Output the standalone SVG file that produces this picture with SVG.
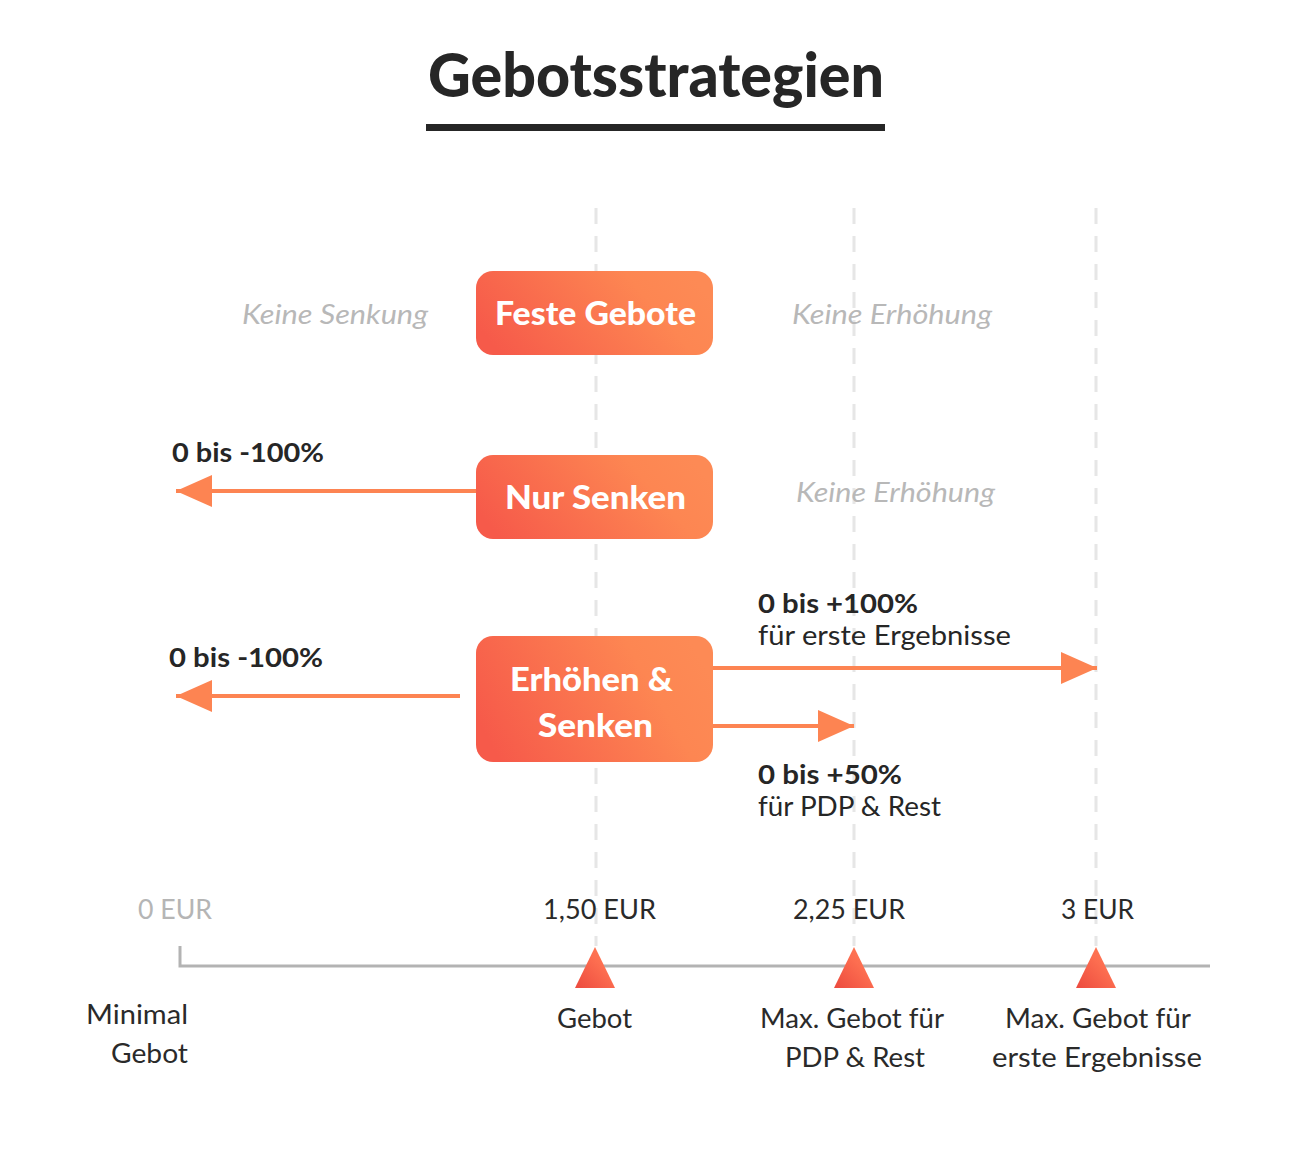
<svg xmlns="http://www.w3.org/2000/svg" width="1311" height="1154" viewBox="0 0 1311 1154">
<defs>
<linearGradient id="boxGrad" x1="0" y1="0.65" x2="1" y2="0.35">
<stop offset="0" stop-color="#f65a4a"/>
<stop offset="0.75" stop-color="#fd8652"/>
<stop offset="1" stop-color="#fd8a55"/>
</linearGradient>
<linearGradient id="triGrad" x1="0" y1="1" x2="1" y2="0">
<stop offset="0" stop-color="#ec4a3e"/>
<stop offset="0.6" stop-color="#fd6e50"/>
<stop offset="1" stop-color="#ff7e56"/>
</linearGradient>
<marker id="head" markerUnits="userSpaceOnUse" markerWidth="36" markerHeight="32" viewBox="0 0 36 32" refX="36" refY="16" orient="auto">
<path d="M0,0 L36,16 L0,32 z" fill="#fd8452"/>
</marker>
<style>
.guide{stroke:#e6e6e6;stroke-width:3;stroke-dasharray:16 12;fill:none}
.box{fill:url(#boxGrad)}
.boxtxt{font-family:Lato,"Noto Sans",sans-serif;font-weight:900;font-size:32px;fill:#ffffff;text-anchor:middle}
.arrow{stroke:#fd8452;stroke-width:4;fill:none;marker-end:url(#head)}
.hint{font-family:Lato,"Noto Sans",sans-serif;font-style:italic;font-size:27px;fill:#b8b8b8}
.pct{font-family:Lato,"Noto Sans",sans-serif;font-weight:700;font-size:26px;fill:#262626}
.sub{font-family:Lato,"Noto Sans",sans-serif;font-size:26px;fill:#262626}
.axis{stroke:#b3b3b3;stroke-width:3;fill:none}
.tick{font-family:Lato,"Noto Sans",sans-serif;font-size:26px;fill:#2a2a2a}
.tri{fill:url(#triGrad)}
</style>
</defs>
<rect width="1311" height="1154" fill="#ffffff"/>

<g id="title">
<text x="428" y="97" font-family="Lato,'Noto Sans',sans-serif" font-weight="900" font-size="60" fill="#262626" textLength="456" lengthAdjust="spacingAndGlyphs">Gebotsstrategien</text>
<rect x="426" y="124" width="459" height="7" fill="#262626"/>
</g>

<g id="guides">
<line class="guide" x1="596" y1="208" x2="596" y2="946"/>
<line class="guide" x1="854" y1="208" x2="854" y2="946"/>
<line class="guide" x1="1096" y1="208" x2="1096" y2="946"/>
</g>

<g id="connectors">
<line class="arrow" x1="476" y1="491" x2="176" y2="491"/>
<line class="arrow" x1="460" y1="696" x2="176" y2="696"/>
<line class="arrow" x1="713" y1="668" x2="1097" y2="668"/>
<line class="arrow" x1="713" y1="726" x2="854" y2="726"/>
</g>

<g id="node-feste">
<rect class="box" x="476" y="271" width="237" height="84" rx="17"/>
<text class="boxtxt" x="595.5" y="325" textLength="201" lengthAdjust="spacingAndGlyphs">Feste Gebote</text>
</g>
<g id="node-nur-senken">
<rect class="box" x="476" y="455" width="237" height="84" rx="17"/>
<text class="boxtxt" x="595.5" y="509" textLength="181" lengthAdjust="spacingAndGlyphs">Nur Senken</text>
</g>
<g id="node-erhoehen">
<rect class="box" x="476" y="636" width="237" height="126" rx="17"/>
<text class="boxtxt" x="591.5" y="691" textLength="163" lengthAdjust="spacingAndGlyphs">Erhöhen &amp;</text>
<text class="boxtxt" x="595.5" y="737" textLength="115" lengthAdjust="spacingAndGlyphs">Senken</text>
</g>

<g id="labels">
<text class="hint" x="242" y="324" textLength="186" lengthAdjust="spacingAndGlyphs">Keine Senkung</text>
<text class="hint" x="792" y="324" textLength="200" lengthAdjust="spacingAndGlyphs">Keine Erhöhung</text>
<text class="hint" x="796" y="502" textLength="199" lengthAdjust="spacingAndGlyphs">Keine Erhöhung</text>
<text class="pct" x="172" y="462" textLength="152" lengthAdjust="spacingAndGlyphs">0 bis -100%</text>
<text class="pct" x="169" y="667" textLength="154" lengthAdjust="spacingAndGlyphs">0 bis -100%</text>
<text class="pct" x="758" y="613" textLength="160" lengthAdjust="spacingAndGlyphs">0 bis +100%</text>
<text class="sub" x="758" y="645" textLength="253" lengthAdjust="spacingAndGlyphs">für erste Ergebnisse</text>
<text class="pct" x="758" y="784" textLength="144" lengthAdjust="spacingAndGlyphs">0 bis +50%</text>
<text class="sub" x="758" y="816" textLength="183" lengthAdjust="spacingAndGlyphs">für PDP &amp; Rest</text>
</g>

<g id="axis">
<path class="axis" d="M180,946 L180,966 L1210,966"/>
<text class="tick" x="138" y="919" style="fill:#b5b5b5" textLength="74" lengthAdjust="spacingAndGlyphs">0 EUR</text>
<text class="tick" x="543" y="919" textLength="113" lengthAdjust="spacingAndGlyphs">1,50 EUR</text>
<text class="tick" x="793" y="919" textLength="112" lengthAdjust="spacingAndGlyphs">2,25 EUR</text>
<text class="tick" x="1061" y="919" textLength="73" lengthAdjust="spacingAndGlyphs">3 EUR</text>
</g>

<g id="marker-min">
<text class="tick" x="86" y="1024" textLength="102" lengthAdjust="spacingAndGlyphs">Minimal</text>
<text class="tick" x="111" y="1063" textLength="77" lengthAdjust="spacingAndGlyphs">Gebot</text>
</g>
<g id="marker-gebot">
<polygon class="tri" points="595,947 615,988 575,988"/>
<text class="tick" x="557" y="1028" textLength="75" lengthAdjust="spacingAndGlyphs">Gebot</text>
</g>
<g id="marker-pdp">
<polygon class="tri" points="854,947 874,988 834,988"/>
<text class="tick" x="760" y="1028" textLength="184" lengthAdjust="spacingAndGlyphs">Max. Gebot für</text>
<text class="tick" x="785" y="1067" textLength="140" lengthAdjust="spacingAndGlyphs">PDP &amp; Rest</text>
</g>
<g id="marker-erste">
<polygon class="tri" points="1096,947 1116,988 1076,988"/>
<text class="tick" x="1005" y="1028" textLength="186" lengthAdjust="spacingAndGlyphs">Max. Gebot für</text>
<text class="tick" x="992" y="1067" textLength="210" lengthAdjust="spacingAndGlyphs">erste Ergebnisse</text>
</g>
</svg>
